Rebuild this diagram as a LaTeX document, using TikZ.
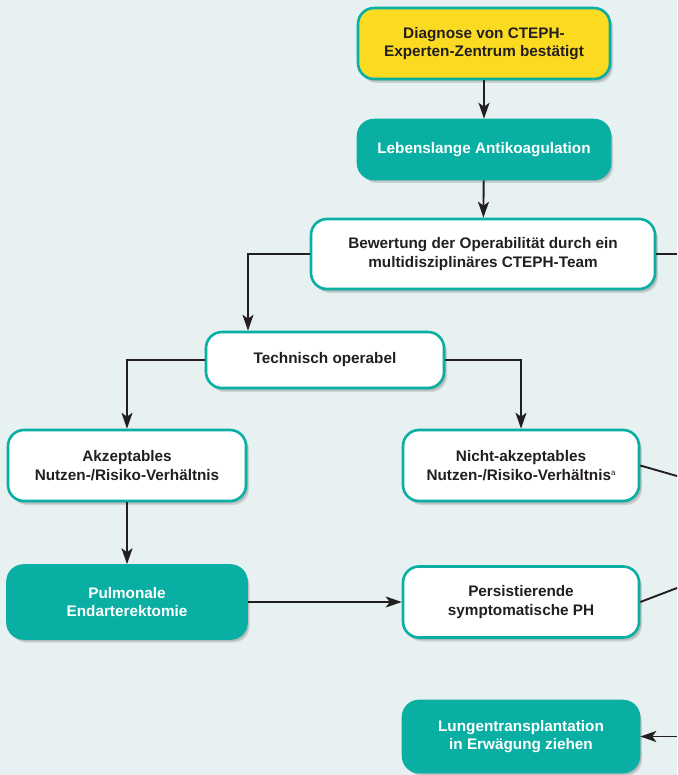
\documentclass[tikz,border=0pt]{standalone}
\usepackage{fontspec}
\setmainfont{Liberation Sans}
\usetikzlibrary{arrows.meta,shadows}
\definecolor{bg}{HTML}{E8F1F1}
\definecolor{tealc}{HTML}{0AAFA3}
\definecolor{yel}{HTML}{FBDB22}
\definecolor{ink}{HTML}{231F20}
\begin{document}
\begin{tikzpicture}[x=1pt,y=-1pt,
  box/.style={rounded corners=16pt, draw=tealc, line width=2.6pt, align=center,
    font=\fontsize{15.3}{18.5}\selectfont\bfseries, text=ink, inner sep=0pt,
    drop shadow={shadow xshift=3pt,shadow yshift=-4pt,opacity=.12,fill=black},
    drop shadow={shadow xshift=2pt,shadow yshift=-2.5pt,opacity=.12,fill=black}},
  wbox/.style={box, fill=white},
  tbox/.style={box, fill=tealc, text=white},
  ybox/.style={box, fill=yel},
  conn/.style={draw=ink, line width=1.9pt},
  arr/.style={conn, -{Stealth[length=16pt,width=11pt,inset=4pt]}},
]
\fill[bg] (0,0) rectangle (677,775);
\useasboundingbox (0,0) rectangle (677,775);

\node[ybox, minimum width=252pt, minimum height=71pt] (diag) at (484,43.5) {Diagnose von CTEPH-\\Experten-Zentrum bestätigt};
\node[tbox, minimum width=252pt, minimum height=59pt] (anti) at (484,149.5) {Lebenslange Antikoagulation};
\node[wbox, minimum width=344pt, minimum height=70pt] (bew) at (483,254) {Bewertung der Operabilität durch ein\\multidisziplinäres CTEPH-Team};
\node[wbox, minimum width=238pt, minimum height=56pt] (tech) at (325,360) {Technisch operabel};
\node[wbox, minimum width=238pt, minimum height=71pt] (akz) at (127,465.5) {Akzeptables\\Nutzen-/Risiko-Verhältnis};
\node[wbox, minimum width=236pt, minimum height=71pt] (nakz) at (521,465.5) {Nicht-akzeptables\\Nutzen-/Risiko-Verhältnis\raisebox{5pt}{\fontsize{8}{8}\selectfont\mdseries a}};
\node[tbox, minimum width=239pt, minimum height=73pt] (pea) at (127,602) {Pulmonale\\Endarterektomie};
\node[wbox, minimum width=236pt, minimum height=71pt] (pers) at (521,602) {Persistierende\\symptomatische PH};
\node[tbox, minimum width=236pt, minimum height=71pt] (lung) at (521,736.5) {Lungentransplantation\\in Erwägung ziehen};

\coordinate (r0) at (677,254);
\coordinate (r1) at (677,476);
\coordinate (r2) at (677,588);
\coordinate (r3) at (677,736.5);

\draw[arr] (diag) -- (anti);
\draw[arr] (anti) -- (bew);
\draw[arr] (bew.west) -| ([xshift=-77pt]tech.north);
\draw[conn] (bew.east) -- (r0);
\draw[arr] (tech.west) -| (akz.north);
\draw[arr] (tech.east) -| (nakz.north);
\draw[arr] (akz) -- (pea);
\draw[arr] (pea) -- (pers);
\draw[conn] (nakz.east) -- (r1);
\draw[conn] (pers.east) -- (r2);
\draw[arr] (r3) -- (lung.east);
\end{tikzpicture}
\end{document}
